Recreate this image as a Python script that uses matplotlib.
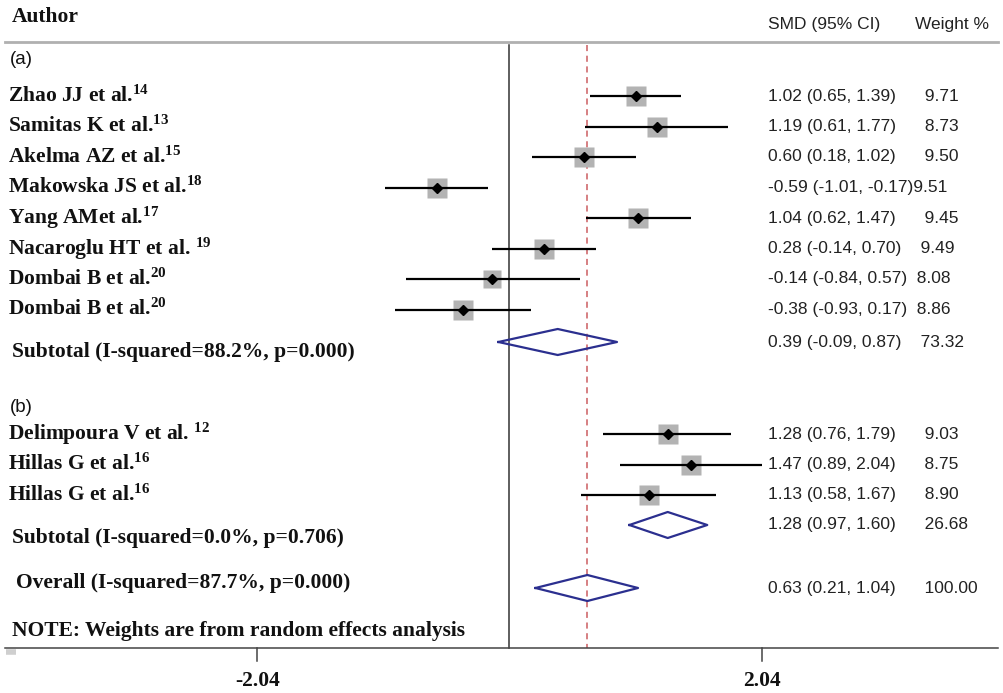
import matplotlib
matplotlib.use("Agg")
import matplotlib.pyplot as plt
import numpy as np

plt.rcParams["mathtext.fontset"] = "custom"
plt.rcParams["mathtext.rm"] = "Liberation Serif:bold"
plt.rcParams["mathtext.bf"] = "Liberation Serif:bold"
plt.rcParams["mathtext.it"] = "Liberation Serif:bold"

# ── data ──────────────────────────────────────────────────────────────
labels_a = [r"Zhao JJ et al.$^{14}$", r"Samitas K et al.$^{13}$",
            r"Akelma AZ et al.$^{15}$", r"Makowska JS et al.$^{18}$",
            r"Yang AMet al.$^{17}$", r"Nacaroglu HT et al. $^{19}$",
            r"Dombai B et al.$^{20}$", r"Dombai B et al.$^{20}$"]
smd_a = [1.02, 1.19, 0.60, -0.59, 1.04, 0.28, -0.14, -0.38]
lo_a = [0.65, 0.61, 0.18, -1.01, 0.62, -0.14, -0.84, -0.93]
hi_a = [1.39, 1.77, 1.02, -0.17, 1.47, 0.70, 0.57, 0.17]
w_a = [9.71, 8.73, 9.50, 9.51, 9.45, 9.49, 8.08, 8.86]

labels_b = [r"Delimpoura V et al. $^{12}$", r"Hillas G et al.$^{16}$",
            r"Hillas G et al.$^{16}$"]
smd_b = [1.28, 1.47, 1.13]
lo_b = [0.76, 0.89, 0.58]
hi_b = [1.79, 2.04, 1.67]
w_b = [9.03, 8.75, 8.90]

sub_a = (0.39, -0.09, 0.87, 73.32)
sub_b = (1.28, 0.97, 1.60, 26.68)
overall = (0.63, 0.21, 1.04, 100.00)
sub_a_label = "Subtotal (I-squared=88.2%, p=0.000)"
sub_b_label = "Subtotal (I-squared=0.0%, p=0.706)"
overall_label = "Overall (I-squared=87.7%, p=0.000)"
note = "NOTE: Weights are from random effects analysis"
ticks = [-2.04, 2.04]

# ── layout (pixel rows, y axis runs top -> bottom) ─────────────────────
W, H = 1004, 693
X0, SC = 509.5, 123.6           # pixel of x=0, pixels per unit
STEP = 30.5
y_a = 96 + STEP * np.arange(len(smd_a))
y_sub_a = 342
y_b = 434 + STEP * np.arange(len(smd_b))
y_sub_b = 525
y_over = 588
TOP, BOT = 42, 648

SERIF = dict(family="Liberation Serif", weight="bold", fontsize=15.5)
SANS = dict(family=["Liberation Sans", "DejaVu Sans"], fontsize=12.5)
FIGSP = "\u2007"
GREY_SQ = "#b3b3b3"
NAVY = "#2b2f8f"
RED = "#cc5c60"

fig = plt.figure(figsize=(W / 100, H / 100), dpi=100)
ax = fig.add_axes([0, 0, 1, 1])
ax.set_xlim(-X0 / SC, (W - X0) / SC)
ax.set_ylim(H, 0)
ax.axis("off")
T = ax.get_yaxis_transform()


def fx(px):
    return px / W


def right_text(est, lo, hi, w, y):
    ci = f"{est:.2f} ({lo:.2f}, {hi:.2f})"
    s = ci + FIGSP * max(0, 20 - len(ci)) + f"{w:.2f}"
    ax.text(fx(768), y, s, transform=T, va="center", ha="left", color="#222", **SANS)


def study(labels, smd, lo, hi, w, ys):
    for lab, e, l, h, wt, y in zip(labels, smd, lo, hi, w, ys):
        ax.plot([l, h], [y, y], color="black", lw=1.6, zorder=3, solid_capstyle="butt")
        ax.plot(e, y, marker="s", ms=0.72 * 6.6 * np.sqrt(wt), color=GREY_SQ,
                mec="none", zorder=2)
        ax.plot(e, y, marker="D", ms=5, color="black", zorder=4)
        ax.text(fx(8), y, lab, transform=T, va="center", ha="left", color="#111", **SERIF)
        right_text(e, l, h, wt, y)


def diamond(vals, y, half=13):
    e, l, h, _ = vals
    ax.plot([l, e, h, e, l], [y, y - half, y, y + half, y], color=NAVY, lw=1.6, zorder=4)


# header
ax.text(fx(12), 17, "Author", transform=T, va="center", ha="left", color="#111", **SERIF)
ax.text(fx(768), 25, "SMD (95% CI)", transform=T, va="center", ha="left", color="#222", **SANS)
ax.text(fx(915), 25, "Weight %", transform=T, va="center", ha="left", color="#222", **SANS)
ax.plot([fx(5), fx(998)], [TOP, TOP], transform=T, color="#b0b0b0", lw=2)

# reference lines
ax.plot([0, 0], [TOP + 3, BOT], color="#333333", lw=1.1, zorder=1)
ax.plot([overall[0]] * 2, [TOP + 3, BOT], color=RED, lw=1.1, dashes=(4, 3), zorder=1)

# group (a)
ax.text(fx(10), 60, "(a)", transform=T, va="center", ha="left",
        family="Liberation Sans", fontsize=13.5, color="#111")
study(labels_a, smd_a, lo_a, hi_a, w_a, y_a)
diamond(sub_a, y_sub_a)
ax.text(fx(12), y_sub_a + 10, sub_a_label, transform=T, va="center", ha="left", color="#111", **SERIF)
right_text(*sub_a, y_sub_a)

# group (b)
ax.text(fx(10), 408, "(b)", transform=T, va="center", ha="left",
        family="Liberation Sans", fontsize=13.5, color="#111")
study(labels_b, smd_b, lo_b, hi_b, w_b, y_b)
diamond(sub_b, y_sub_b)
ax.text(fx(12), y_sub_b + 13, sub_b_label, transform=T, va="center", ha="left", color="#111", **SERIF)
right_text(*sub_b, y_sub_b)

# overall
diamond(overall, y_over)
ax.text(fx(16), y_over - 5, overall_label, transform=T, va="center", ha="left", color="#111", **SERIF)
right_text(*overall, y_over)

ax.text(fx(12), 631, note, transform=T, va="center", ha="left", color="#111", **SERIF)

# bottom axis
ax.plot([fx(5), fx(998)], [BOT, BOT], transform=T, color="#444444", lw=1.1)
ax.plot([fx(6), fx(16)], [BOT + 4, BOT + 4], transform=T, color="#cfcfcf", lw=4,
        solid_capstyle="butt")
for t in ticks:
    ax.plot([t, t], [BOT, BOT + 13], color="#444444", lw=1.1)
    ax.text(t, 681, f"{t:.2f}", ha="center", va="center", color="#111", **SERIF)

fig.savefig("out.png", dpi=100, facecolor="white")
